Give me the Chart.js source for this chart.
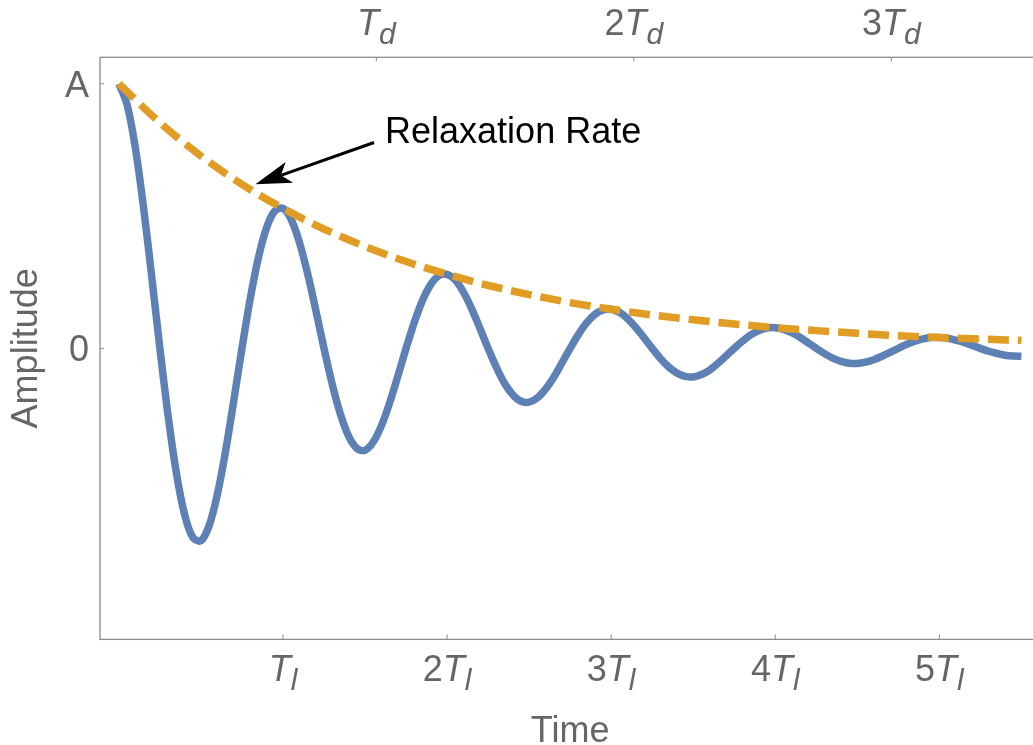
<!DOCTYPE html>
<html>
<head>
<meta charset="utf-8">
<script src="https://cdn.jsdelivr.net/npm/chart.js@4.4.1/dist/chart.umd.min.js"></script>
<style>
  html, body { margin: 0; padding: 0; overflow: hidden; background: #ffffff; }
  canvas { display: block; }
</style>
</head>
<body>
<canvas id="chart" width="1050" height="745"></canvas>
<script>
// Time in units of the oscillation period T_l
const time = [
  0.00, 0.05, 0.10, 0.15, 0.20, 0.25, 0.30, 0.35, 0.40, 0.45,
  0.50, 0.55, 0.60, 0.65, 0.70, 0.75, 0.80, 0.85, 0.90, 0.95,
  1.00, 1.05, 1.10, 1.15, 1.20, 1.25, 1.30, 1.35, 1.40, 1.45,
  1.50, 1.55, 1.60, 1.65, 1.70, 1.75, 1.80, 1.85, 1.90, 1.95,
  2.00, 2.05, 2.10, 2.15, 2.20, 2.25, 2.30, 2.35, 2.40, 2.45,
  2.50, 2.55, 2.60, 2.65, 2.70, 2.75, 2.80, 2.85, 2.90, 2.95,
  3.00, 3.05, 3.10, 3.15, 3.20, 3.25, 3.30, 3.35, 3.40, 3.45,
  3.50, 3.55, 3.60, 3.65, 3.70, 3.75, 3.80, 3.85, 3.90, 3.95,
  4.00, 4.05, 4.10, 4.15, 4.20, 4.25, 4.30, 4.35, 4.40, 4.45,
  4.50, 4.55, 4.60, 4.65, 4.70, 4.75, 4.80, 4.85, 4.90, 4.95,
  5.00, 5.05, 5.10, 5.15, 5.20, 5.25, 5.30, 5.35, 5.40, 5.45,
  5.50
];

// Damped oscillation, in units of the initial amplitude A
const amplitude = [
  1.000, 0.921, 0.759, 0.534, 0.272, 0.000, -0.255, -0.470, -0.627, -0.714,
  -0.727, -0.670, -0.552, -0.389, -0.198, 0.000, 0.186, 0.342, 0.456, 0.519,
  0.529, 0.487, 0.401, 0.283, 0.144, 0.000, -0.135, -0.249, -0.332, -0.378,
  -0.385, -0.354, -0.292, -0.206, -0.105, 0.000, 0.098, 0.181, 0.241, 0.275,
  0.280, 0.258, 0.212, 0.149, 0.076, 0.000, -0.071, -0.132, -0.175, -0.200,
  -0.203, -0.187, -0.154, -0.109, -0.055, 0.000, 0.052, 0.096, 0.128, 0.145,
  0.148, 0.136, 0.112, 0.079, 0.040, 0.000, -0.038, -0.070, -0.093, -0.106,
  -0.108, -0.099, -0.082, -0.057, -0.029, 0.000, 0.027, 0.051, 0.067, 0.077,
  0.078, 0.072, 0.059, 0.042, 0.021, 0.000, -0.020, -0.037, -0.049, -0.056,
  -0.057, -0.052, -0.043, -0.030, -0.015, 0.000, 0.015, 0.027, 0.036, 0.041,
  0.041, 0.038, 0.031, 0.022, 0.011, 0.000, -0.011, -0.019, -0.026, -0.029,
  -0.030
];

// Relaxation envelope
const envelopeTime = [
  0.00, 0.25, 0.50, 0.75, 1.00, 1.25, 1.50, 1.75, 2.00, 2.25, 2.50, 2.75,
  3.00, 3.25, 3.50, 3.75, 4.00, 4.25, 4.50, 4.75, 5.00, 5.25, 5.50
];
const envelope = [
  1.000, 0.853, 0.727, 0.620, 0.529, 0.451, 0.385, 0.328, 0.280, 0.238, 0.203, 0.173,
  0.148, 0.126, 0.108, 0.092, 0.078, 0.067, 0.057, 0.048, 0.041, 0.035, 0.030
];

// Tick positions (in units of T_l) and labels
const periodTicks = [1, 2, 3, 4, 5];
const periodTickLabels = ['T_l', '2T_l', '3T_l', '4T_l', '5T_l'];
const decayTicks = [1.569, 3.138, 4.707];
const decayTickLabels = ['T_d', '2T_d', '3T_d'];
const amplitudeTicks = [0, 1];
const amplitudeTickLabels = ['0', 'A'];

// Annotation anchors in data units
const noteText = 'Relaxation Rate';
const noteAnchor = { x: 1.622, y: 0.776 };
const arrowTail = { x: 1.555, y: 0.778 };
const arrowTip = { x: 0.832, y: 0.620 };

const FONT = "'Liberation Sans', Arial, Helvetica, sans-serif";
const LABEL_GRAY = '#666666';
const FRAME_GRAY = '#8c8c8c';

// Draws labels such as "2T_l": upright coefficient, italic T, italic subscript
function drawSubscriptLabel(ctx, label, cx, baseline) {
  const m = label.match(/^(\d*)T_(\w)$/);
  const coef = m[1], sub = m[2];
  const fUp = '36px ' + FONT, fIt = 'italic 36px ' + FONT, fSub = 'italic 30px ' + FONT;
  ctx.font = fUp; const w1 = ctx.measureText(coef).width;
  ctx.font = fIt; const w2 = ctx.measureText('T').width;
  ctx.font = fSub; const w3 = ctx.measureText(sub).width;
  let x = cx - (w1 + w2 + w3) / 2;
  ctx.textAlign = 'left';
  ctx.textBaseline = 'alphabetic';
  ctx.font = fUp; ctx.fillText(coef, x, baseline); x += w1;
  ctx.font = fIt; ctx.fillText('T', x, baseline); x += w2;
  ctx.font = fSub; ctx.fillText(sub, x, baseline + 9);
}

const framePlugin = {
  id: 'frameAndLabels',
  beforeDatasetsDraw(chart) {
    const { ctx, chartArea: a, scales: { x, y } } = chart;
    ctx.save();
    ctx.strokeStyle = FRAME_GRAY;
    ctx.lineWidth = 1.3;
    ctx.strokeRect(a.left, a.top, a.right - a.left, a.bottom - a.top);
    ctx.lineWidth = 1;
    ctx.beginPath();
    periodTicks.forEach(v => {
      const px = x.getPixelForValue(v);
      ctx.moveTo(px, a.bottom); ctx.lineTo(px, a.bottom - 5);
    });
    decayTicks.forEach(v => {
      const px = x.getPixelForValue(v);
      ctx.moveTo(px, a.top); ctx.lineTo(px, a.top + 4);
    });
    amplitudeTicks.forEach(v => {
      const py = y.getPixelForValue(v);
      ctx.moveTo(a.left, py); ctx.lineTo(a.left + 4, py);
    });
    ctx.stroke();
    ctx.restore();
  },
  afterDraw(chart) {
    const { ctx, chartArea: a, scales: { x, y } } = chart;
    ctx.save();
    ctx.fillStyle = LABEL_GRAY;

    periodTicks.forEach((v, i) => drawSubscriptLabel(ctx, periodTickLabels[i], x.getPixelForValue(v), a.bottom + 42));
    decayTicks.forEach((v, i) => drawSubscriptLabel(ctx, decayTickLabels[i], x.getPixelForValue(v), a.top - 22));

    ctx.font = '36px ' + FONT;
    ctx.textAlign = 'right';
    ctx.textBaseline = 'alphabetic';
    amplitudeTicks.forEach((v, i) => ctx.fillText(amplitudeTickLabels[i], a.left - 11, y.getPixelForValue(v) + 13));

    // Axis titles
    ctx.textAlign = 'center';
    ctx.fillText('Time', (a.left + a.right) / 2, 741.5);
    ctx.save();
    ctx.translate(37, (a.top + a.bottom) / 2);
    ctx.rotate(-Math.PI / 2);
    ctx.fillText('Amplitude', 0, 0);
    ctx.restore();

    // Annotation arrow
    const tx = x.getPixelForValue(arrowTail.x), ty = y.getPixelForValue(arrowTail.y);
    const hx = x.getPixelForValue(arrowTip.x), hy = y.getPixelForValue(arrowTip.y);
    const ang = Math.atan2(hy - ty, hx - tx);
    const len = 36, half = 11, notch = 27;
    const ux = Math.cos(ang), uy = Math.sin(ang);
    ctx.strokeStyle = '#000000';
    ctx.fillStyle = '#000000';
    ctx.lineWidth = 3;
    ctx.beginPath();
    ctx.moveTo(tx, ty);
    ctx.lineTo(hx - ux * notch, hy - uy * notch);
    ctx.stroke();
    ctx.beginPath();
    ctx.moveTo(hx, hy);
    ctx.lineTo(hx - ux * len - uy * half, hy - uy * len + ux * half);
    ctx.lineTo(hx - ux * notch, hy - uy * notch);
    ctx.lineTo(hx - ux * len + uy * half, hy - uy * len - ux * half);
    ctx.closePath();
    ctx.fill();

    ctx.font = '36px ' + FONT;
    ctx.textAlign = 'left';
    ctx.fillText(noteText, x.getPixelForValue(noteAnchor.x), y.getPixelForValue(noteAnchor.y));
    ctx.restore();
  }
};

new Chart(document.getElementById('chart').getContext('2d'), {
  type: 'line',
  data: {
    datasets: [
      {
        label: 'Relaxation Rate',
        data: envelopeTime.map((t, i) => ({ x: t, y: envelope[i] })),
        borderColor: '#E19C24',
        borderWidth: 7.5,
        borderDash: [21, 9],
        borderCapStyle: 'butt',
        pointRadius: 0,
        cubicInterpolationMode: 'monotone',
        fill: false,
        order: 0
      },
      {
        label: 'Amplitude',
        data: time.map((t, i) => ({ x: t, y: amplitude[i] })),
        borderColor: '#5E81B5',
        borderWidth: 7.5,
        borderJoinStyle: 'round',
        pointRadius: 0,
        tension: 0.35,
        fill: false,
        order: 1
      }
    ]
  },
  options: {
    responsive: false,
    animation: false,
    devicePixelRatio: 1,
    events: [],
    layout: { padding: { left: 100, top: 57.3, right: 9.7, bottom: 105.6 } },
    plugins: { legend: { display: false }, tooltip: { enabled: false } },
    scales: {
      x: { type: 'linear', min: -0.115, max: 5.615, display: false },
      y: { type: 'linear', min: -1.1, max: 1.1, display: false }
    }
  },
  plugins: [framePlugin]
});
</script>
</body>
</html>
